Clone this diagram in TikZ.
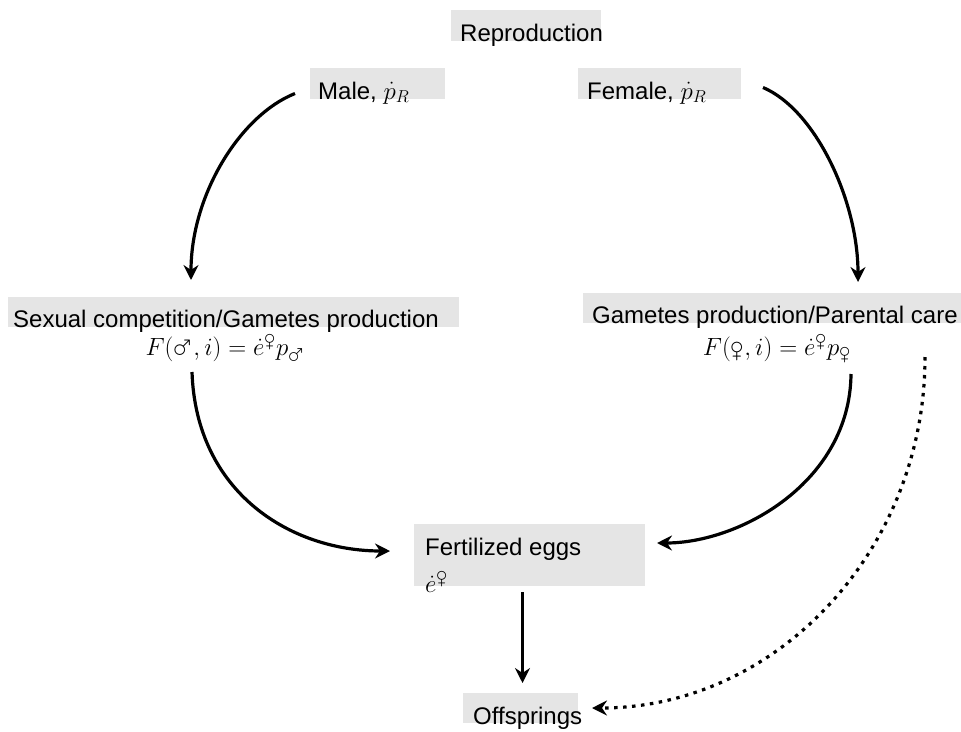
\documentclass[tikz,border=0pt]{standalone}
\usepackage{amsmath}
\usepackage[nointegrals]{wasysym}
\usepackage{fontspec}
\setmainfont{Liberation Sans}
\usetikzlibrary{arrows.meta}

\newcommand{\femsym}{\mbox{\fontsize{22}{22}\selectfont\female}}
\newcommand{\malsym}{\mbox{\fontsize{22}{22}\selectfont\male}}

\begin{document}
\begin{tikzpicture}[x=1pt,
            y=-1pt,
            >={Stealth[length=15pt,width=15pt,inset=5pt]},
            flow/.style={->, line width=3.2pt},
            dots/.style={flow, dash pattern=on 3.5pt off 5.5pt},
            box/.style={fill=gray!20, inner sep=0pt, outer sep=0pt, anchor=north west},
            lbl/.style={inner sep=0pt, font=\fontsize{24}{29}\selectfont}]

        \useasboundingbox (0,0) rectangle (961,731);

        % grey boxes
        \node[box, minimum width=150pt, minimum height=31pt] (reprobox) at (451,10)  {};
        \node[box, minimum width=135pt, minimum height=31pt] (malebox)  at (310,68)  {};
        \node[box, minimum width=163pt, minimum height=31pt] (femalebox) at (578,68) {};
        \node[box, minimum width=451pt, minimum height=30pt] (sexbox)   at (8,297)   {};
        \node[box, minimum width=378pt, minimum height=30pt] (gamesbox) at (583,293) {};
        \node[box, minimum width=231pt, minimum height=62pt] (fertbox)  at (414,524) {};
        \node[box, minimum width=115pt, minimum height=30pt] (offbox)   at (463,693) {};

        % texts
        \node[lbl, anchor=base west] (repro)  at ([shift={(9,0)}]reprobox.south west)  {Reproduction};
        \node[lbl, anchor=base west] (male)   at ([shift={(8,0)}]malebox.south west)   {Male, $\dot p_R$};
        \node[lbl, anchor=base west] (female) at ([shift={(9,0)}]femalebox.south west) {Female, $\dot p_R$};
        \node[lbl, anchor=base west] (sex)    at ([shift={(5,0)}]sexbox.south west)    {Sexual competition/Gametes production};
        \node[lbl, anchor=base west] (games)  at ([shift={(9,0)}]gamesbox.south west)  {Gametes production/Parental care};
        \node[lbl, anchor=base west] (fert)   at ([shift={(11,-31)}]fertbox.south west) {Fertilized eggs};
        \node[lbl, anchor=base west] (fertE)  at ([shift={(11,6)}]fertbox.south west)  {$\dot e^{\femsym}$};
        \node[lbl, anchor=base west] (off)    at ([shift={(10,1)}]offbox.south west)   {Offsprings};

        \node[lbl, anchor=base] (maleeq)   at ([shift={(-8,28)}]sexbox.south)  {$F(\text{\male},i)=\dot e^{\femsym}p_{\malsym}$};
        \node[lbl, anchor=base] (femaleeq) at ([shift={(5,32)}]gamesbox.south) {$F(\text{\female},i)=\dot e^{\femsym}p_{\femsym}$};

        % arrows
        \draw[flow] ([shift={(-15,10)}]malebox.west) .. controls +(-55,22) and +(0,-85) .. ([shift={(183,-17)}]sexbox.north west);
        \draw[flow] ([shift={(22,4)}]femalebox.east) .. controls +(52,22) and +(0,-82) .. ([shift={(275,-11)}]gamesbox.north west);
        \draw[flow] ([shift={(184,45)}]sexbox.south west) .. controls +(4,120) and +(-100,0) .. ([shift={(-24,-4)}]fertbox.west);
        \draw[flow] ([shift={(268,81)}]gamesbox.north west) .. controls +(-1,108) and +(83,0) .. ([shift={(12,-12)}]fertbox.east);
        \draw[dots] ([shift={(342,64)}]gamesbox.north west) .. controls +(0,194) and +(184,0) .. ([shift={(14,0)}]offbox.east);
        \draw[flow] ([shift={(-7,6)}]fertbox.south) -- ([shift={(2,-10)}]offbox.north);

    \end{tikzpicture}
\end{document}
